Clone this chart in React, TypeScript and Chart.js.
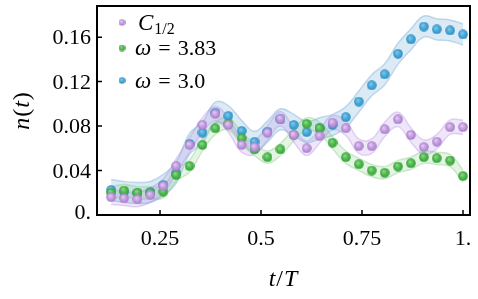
import React, { useEffect, useRef } from "react";
import { Chart, registerables } from "chart.js";

Chart.register(...registerables);

// ---- data ----
const tValues = [
  0.129, 0.161, 0.194, 0.226, 0.258, 0.290, 0.323, 0.355, 0.387, 0.419,
  0.452, 0.484, 0.516, 0.548, 0.581, 0.613, 0.645, 0.677, 0.710, 0.742,
  0.774, 0.806, 0.839, 0.871, 0.903, 0.935, 0.968, 1.0,
];
const seriesC12 = [
  0.016, 0.015, 0.014, 0.018, 0.026, 0.044, 0.063, 0.081, 0.091, 0.081,
  0.063, 0.061, 0.074, 0.0865, 0.072, 0.060, 0.071, 0.083, 0.078, 0.062,
  0.062, 0.077, 0.086, 0.072, 0.061, 0.066, 0.079, 0.079,
];
const seriesW383 = [
  0.020, 0.022, 0.020, 0.020, 0.021, 0.036, 0.044, 0.063, 0.078, 0.082,
  0.069, 0.059, 0.052, 0.059, 0.072, 0.082, 0.078, 0.065, 0.052, 0.0456,
  0.040, 0.038, 0.0436, 0.0465, 0.052, 0.051, 0.049, 0.035,
];
const seriesW30 = [
  0.0225, 0.0207, 0.0198, 0.0207, 0.027, 0.038, 0.064, 0.074, 0.092, 0.089,
  0.0756, 0.0658, 0.075, 0.086, 0.081, 0.0745, 0.078, 0.081, 0.088, 0.102,
  0.1167, 0.1265, 0.145, 0.158, 0.1695, 0.167, 0.166, 0.1624,
];
const xTicks = [0.25, 0.5, 0.75, 1.0];
const xTickLabels = ["0.25", "0.5", "0.75", "1."];
const yTicks = [0, 0.04, 0.08, 0.12, 0.16];
const yTickLabels = ["0.", "0.04", "0.08", "0.12", "0.16"];
const xTitle = ["t", "/", "T"];
const yTitle = ["n", "(", "t", ")"];
const legendMain = ["C", "ω", "ω"];
const legendRest = ["1/2", "= 3.83", "= 3.0"];

// ---- styles ----
const SERIF = '"Liberation Serif", "Times New Roman", serif';
const purple = { light: "#e6d2f3", base: "#c39be0", dark: "#a57cc4", band: "rgba(175,135,225,0.20)", edge: "rgba(175,140,225,0.35)", half: 0.0065 };
const green = { light: "#98dc92", base: "#4eb94e", dark: "#3a9c3b", band: "rgba(120,205,120,0.20)", edge: "rgba(120,200,120,0.35)", half: 0.0055 };
const blue = { light: "#88cced", base: "#45a9d9", dark: "#338abd", band: "rgba(110,170,215,0.25)", edge: "rgba(110,170,215,0.40)", half: 0.0095 };

function makeSphere(d: number, c: { light: string; base: string; dark: string }) {
  const cv = document.createElement("canvas");
  cv.width = d;
  cv.height = d;
  const g = cv.getContext("2d")!;
  const r = d / 2;
  const grad = g.createRadialGradient(r * 0.75, r * 0.65, 0, r, r, r);
  grad.addColorStop(0, c.light);
  grad.addColorStop(0.55, c.base);
  grad.addColorStop(1, c.dark);
  g.fillStyle = grad;
  g.beginPath();
  g.arc(r, r, r - 0.2, 0, Math.PI * 2);
  g.fill();
  return cv;
}

function pts(vals: number[], off = 0) {
  return vals.map((v, i) => ({ x: tValues[i], y: v + off }));
}

export default function App() {
  const ref = useRef<HTMLCanvasElement | null>(null);
  useEffect(() => {
    document.body.style.margin = "0";
    const canvas = ref.current!;
    const sP = makeSphere(10, purple);
    const sG = makeSphere(10, green);
    const sB = makeSphere(10, blue);
    const lP = makeSphere(7, purple);
    const lG = makeSphere(7, green);
    const lB = makeSphere(7, blue);

    const band = (vals: number[], c: any, order: number) => [
      { data: pts(vals, c.half), borderColor: c.edge, borderWidth: 1.5, pointRadius: 0, tension: 0.4, fill: false, order },
      { data: pts(vals, -c.half), borderColor: c.edge, borderWidth: 1.5, pointRadius: 0, tension: 0.4, fill: { target: "-1" }, backgroundColor: c.band, order },
    ];
    const points = (vals: number[], img: HTMLCanvasElement, order: number) => ({
      data: pts(vals), showLine: false, pointStyle: img, pointRadius: 5, order,
    });

    const overlay = {
      id: "overlay",
      afterDraw(chart: any) {
        const ctx = chart.ctx as CanvasRenderingContext2D;
        const { left, right, top, bottom } = chart.chartArea;
        const xs = chart.scales.x;
        const ys = chart.scales.y;
        ctx.save();
        ctx.strokeStyle = "#000";
        ctx.lineWidth = 2;
        ctx.strokeRect(left, top, right - left, bottom - top);
        ctx.lineWidth = 1.5;
        ctx.beginPath();
        xTicks.forEach((v) => {
          const px = xs.getPixelForValue(v);
          ctx.moveTo(px, bottom);
          ctx.lineTo(px, bottom - 5);
        });
        yTicks.forEach((v) => {
          const py = ys.getPixelForValue(v);
          ctx.moveTo(left, py);
          ctx.lineTo(left + 5, py);
        });
        ctx.stroke();

        ctx.fillStyle = "#000";
        ctx.font = `22px ${SERIF}`;
        ctx.textBaseline = "alphabetic";
        ctx.textAlign = "right";
        yTicks.forEach((v, i) => {
          const py = ys.getPixelForValue(v);
          ctx.fillText(yTickLabels[i], left - 6, Math.min(py + 7, bottom + 3.5));
        });
        ctx.textAlign = "center";
        xTicks.forEach((v, i) => {
          const px = xs.getPixelForValue(v);
          ctx.fillText(xTickLabels[i], px, bottom + 30);
        });

        // titles
        const drawPieces = (pieces: string[], italicIdx: number[], size: number) => {
          const fonts = pieces.map((_, i) => (italicIdx.includes(i) ? `italic ${size}px ${SERIF}` : `${size}px ${SERIF}`));
          const widths = pieces.map((p, i) => { ctx.font = fonts[i]; return ctx.measureText(p).width + 1; });
          const total = widths.reduce((a, b) => a + b, 0);
          let x = -total / 2;
          ctx.textAlign = "left";
          pieces.forEach((p, i) => { ctx.font = fonts[i]; ctx.fillText(p, x, 0); x += widths[i]; });
        };
        ctx.save();
        ctx.translate((left + right) / 2, 286);
        drawPieces(xTitle, [0, 2], 24);
        ctx.restore();
        ctx.save();
        ctx.translate(29, (top + bottom) / 2);
        ctx.rotate(-Math.PI / 2);
        drawPieces(yTitle, [0, 2], 24);
        ctx.restore();

        // legend
        const rows = [29.5, 55, 87.5];
        const imgs = [lP, lG, lB];
        rows.forEach((by, i) => {
          ctx.drawImage(imgs[i], 122 - 3.5, by - 7 - 3.5);
          ctx.textAlign = "left";
          ctx.font = `italic 23px ${SERIF}`;
          const mx = i === 0 ? 138 : 135;
          ctx.fillText(legendMain[i], mx, by);
          const w = ctx.measureText(legendMain[i]).width;
          if (i === 0) {
            ctx.font = `16px ${SERIF}`;
            ctx.fillText(legendRest[i], mx + w + 1, by + 4);
          } else {
            ctx.font = `22px ${SERIF}`;
            const [eq, num] = legendRest[i].split(" ");
            const ex = mx + w + 7;
            ctx.fillText(eq, ex, by);
            const ew = ctx.measureText(eq).width;
            ctx.fillText(num, ex + ew + 7, by);
          }
        });
        ctx.restore();
      },
    };

    const chart = new Chart(canvas, {
      type: "line",
      data: {
        datasets: [
          ...band(seriesW30, blue, 12),
          ...band(seriesW383, green, 11),
          ...band(seriesC12, purple, 10),
          points(seriesW30, sB, 3),
          points(seriesW383, sG, 2),
          points(seriesC12, sP, 1),
        ] as any,
      },
      options: {
        responsive: false,
        animation: false,
        events: [],
        layout: { padding: { top: 2, right: 8, left: 0, bottom: 0 } },
        plugins: { legend: { display: false }, tooltip: { enabled: false } },
        scales: {
          x: {
            type: "linear", min: 0.094, max: 1.0173,
            grid: { display: false }, border: { display: false }, ticks: { display: false },
            afterFit: (s: any) => { s.height = 84; },
          },
          y: {
            type: "linear", min: 0, max: 0.188,
            grid: { display: false }, border: { display: false }, ticks: { display: false },
            afterFit: (s: any) => { s.width = 97; },
          },
        },
      },
      plugins: [overlay],
    });
    return () => chart.destroy();
  }, []);
  return <canvas ref={ref} width={478} height={299} style={{ display: "block" }} />;
}
